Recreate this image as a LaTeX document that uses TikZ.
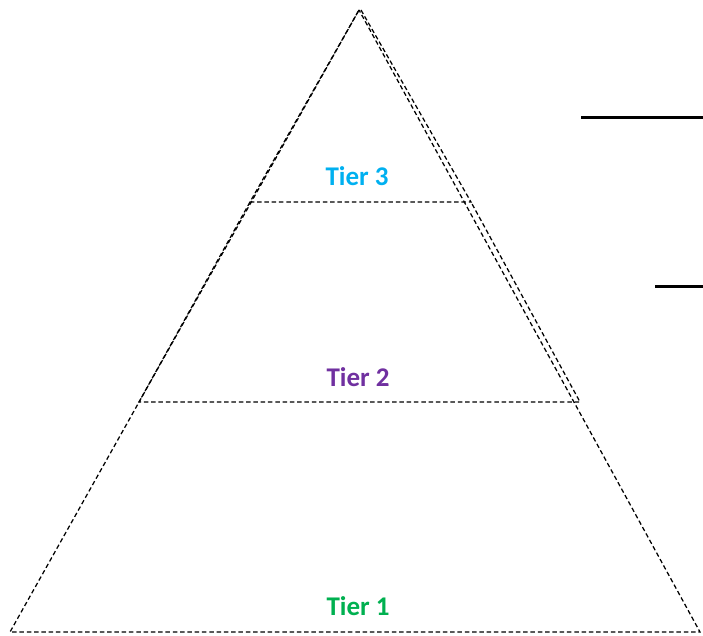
\documentclass[tikz,border=0pt]{standalone}
\usepackage{fontspec}
\setmainfont{Carlito}
\definecolor{tierthree}{HTML}{00B0F0}
\definecolor{tiertwo}{HTML}{7030A0}
\definecolor{tierone}{HTML}{00B050}
\tikzset{
	edge/.style={line width=1.25pt, dash pattern=on 4.5pt off 2.8pt},
	tier/.style={font=\fontsize{27}{32}\selectfont\bfseries},
	rule/.style={line width=3pt}
}
\begin{document}
\begin{tikzpicture}[x=1pt, y=-1pt]
		%%%%% START %%%%%
		\useasboundingbox (0, 0) rectangle (703, 636);
		
		\coordinate (apex) at (359, 10);
		\coordinate (topL) at (250, 202);
		\coordinate (topR) at (471, 202);
		\coordinate (midL) at (139, 402);
		\coordinate (midR) at (580, 402);
		\coordinate (botL) at (10, 632);
		\coordinate (botR) at (700, 632);
		
		% whole pyramid
		\draw[edge] (apex) -- (botL) -- (botR) -- cycle;
		
		% top and middle tiers
		\draw[edge] (361, 10) -- (topR) -- (topL) -- (apex);
		\draw[edge] (topL) -- (midL) -- (midR) -- (topR);
		
		\node[tier, text=tierthree] (tier3) at (357, 176) {Tier 3};
		\node[tier, text=tiertwo] (tier2) at (358, 377) {Tier 2};
		\node[tier, text=tierone] (tier1) at (358, 606) {Tier 1};
		
		\draw[rule] (581, 118) -- (703, 118);
		\draw[rule] (655, 286) -- (703, 286);
		
		%%%%% END %%%%%
	\end{tikzpicture}
\end{document}
